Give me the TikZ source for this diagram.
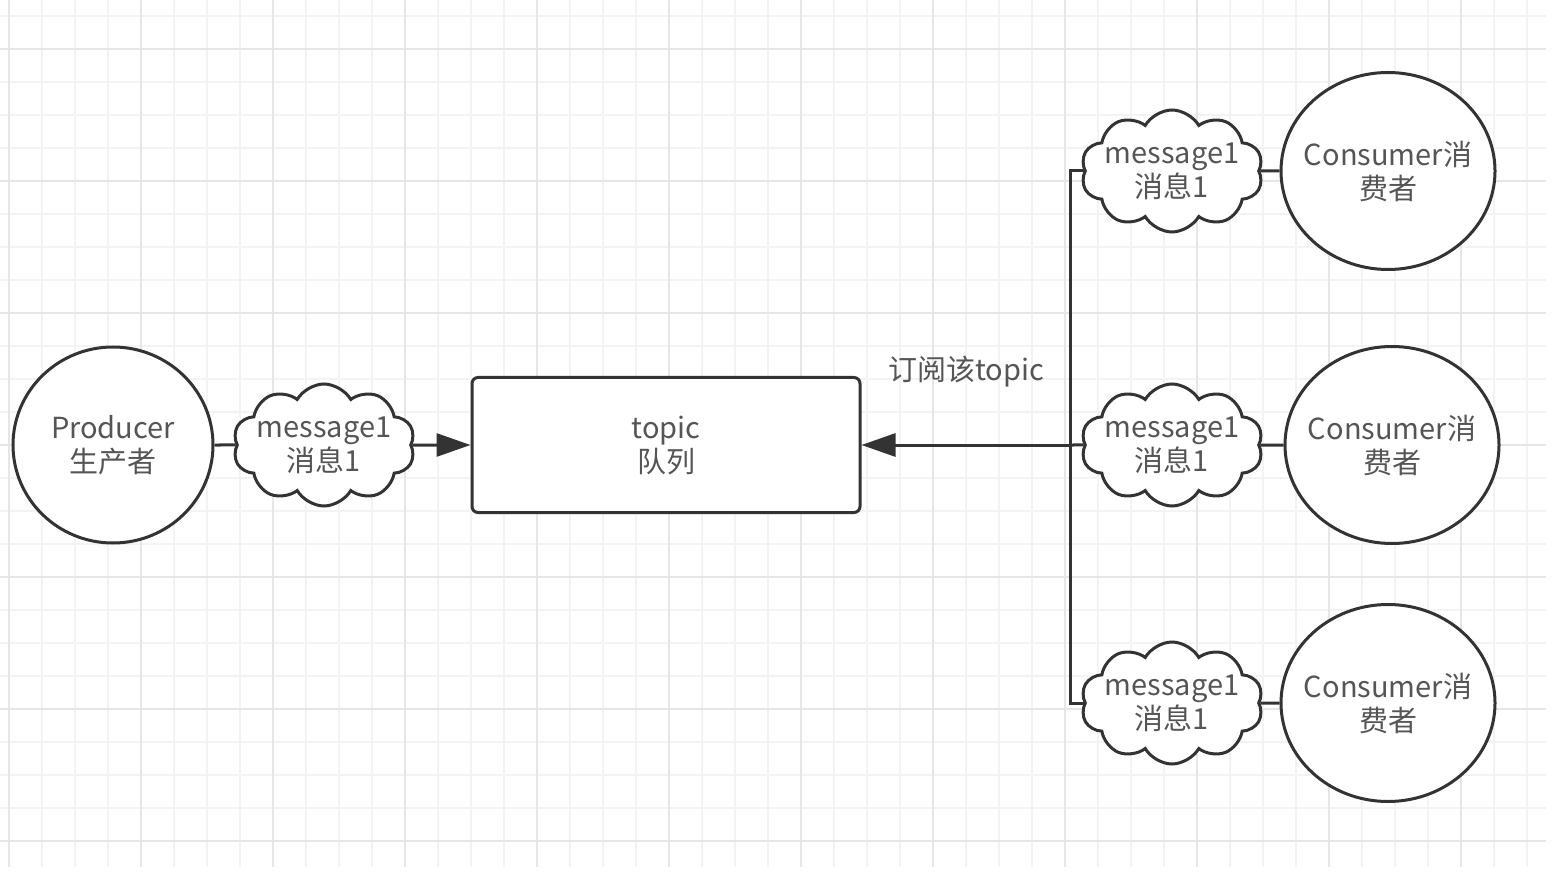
\documentclass[tikz,border=0pt]{standalone}
\usepackage{fontspec}
\setmainfont{Noto Sans CJK SC}
\usetikzlibrary{shapes.symbols,shapes.geometric,arrows.meta}
\definecolor{ln}{HTML}{333333}
\definecolor{tx}{HTML}{555555}
\definecolor{gminor}{HTML}{F3F3F3}
\definecolor{gmajor}{HTML}{E6E6E6}
\begin{document}
\begin{tikzpicture}[x=0.5pt,y=-0.5pt,
  conn/.style={draw=ln,line width=1.5pt},
  tip/.style={-{Triangle[length=17pt,width=11.5pt]}},
  ell/.style={ellipse,draw=ln,fill=white,line width=1.5pt,inner sep=-12pt,
     text=tx,align=center,font=\fontsize{14.5}{17}\selectfont},
  cloudbox/.style={cloud,cloud puffs=10,cloud puff arc=120,cloud ignores aspect,
     minimum width=91pt,minimum height=61pt,draw=ln,fill=white,line width=1.5pt,inner sep=0pt},
  txt/.style={text=tx,align=center,inner sep=0pt,font=\fontsize{14.5}{17}\selectfont},
  box/.style={rectangle,rounded corners=3pt,draw=ln,fill=white,line width=1.5pt,
     minimum width=194pt,minimum height=67.5pt,text=tx,align=center,inner sep=0pt,
     font=\fontsize{14.5}{17}\selectfont}]
\useasboundingbox (0,0) rectangle (1566,876);
\fill[white] (0,0) rectangle (1566,876);
% grid
\foreach \i in {0,...,46}{\draw[gminor,line width=1pt] ({9+33*\i},0) -- ({9+33*\i},867);}
\foreach \j in {0,...,25}{\draw[gminor,line width=1pt] (0,{16+33*\j}) -- (1546,{16+33*\j});}
\foreach \i in {0,...,11}{\draw[gmajor,line width=1pt] ({9+132*\i},0) -- ({9+132*\i},867);}
\foreach \j in {0,...,6}{\draw[gmajor,line width=1pt] (0,{49+132*\j}) -- (1546,{49+132*\j});}
% nodes
\node[ell,minimum width=100pt,minimum height=98pt] (prod) at (113,445) {Producer\\生产者};
\node[cloudbox] (m0) at (324,445) {};
\node[txt] (m0t) at (m0) {message1\\消息1};
\node[box] (topic) at (666,445) {topic\\队列};
\node[txt] (lbl) at (966,372) {订阅该topic};
\coordinate (junc) at (1070,445);
\node[cloudbox] (m1) at (1172,171) {};
\node[txt] (m1t) at (m1) {message1\\消息1};
\node[cloudbox] (m2) at (1172,445) {};
\node[txt] (m2t) at (m2) {message1\\消息1};
\node[cloudbox] (m3) at (1172,703) {};
\node[txt] (m3t) at (m3) {message1\\消息1};
\node[ell,minimum width=107pt,minimum height=98.5pt] (c1) at (1388,171) {Consumer消\\费者};
\node[ell,minimum width=107pt,minimum height=98.5pt] (c2) at (1392,445) {Consumer消\\费者};
\node[ell,minimum width=107pt,minimum height=98.5pt] (c3) at (1388,703) {Consumer消\\费者};
% connectors
\draw[conn] (prod.east) -- (m0.west);
\draw[conn,tip] (m0.east) -- (topic.west);
\draw[conn,tip] (junc) -- (topic.east);
\draw[conn] (m2.west) -- (junc);
\draw[conn] (m1.west) -| (junc);
\draw[conn] (m3.west) -| (junc);
\draw[conn] (m1.east) -- (c1.west);
\draw[conn] (m2.east) -- (c2.west);
\draw[conn] (m3.east) -- (c3.west);
\end{tikzpicture}
\end{document}
